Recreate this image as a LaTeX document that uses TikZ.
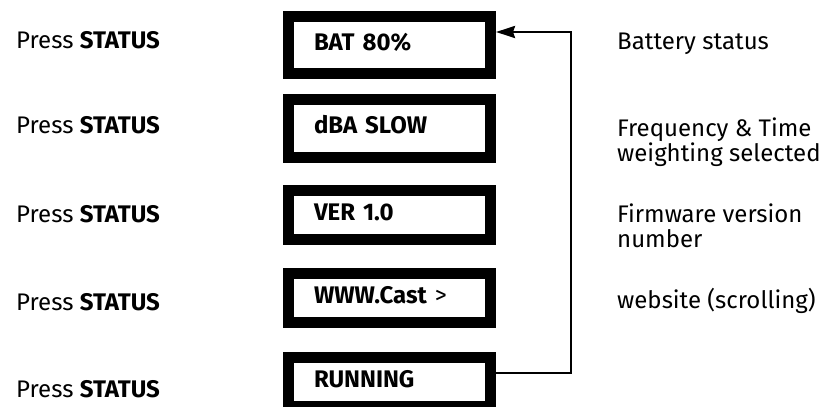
\documentclass[tikz,border=0pt]{standalone}
\usepackage{fontspec}
\setmainfont{Fira Sans}
\usetikzlibrary{arrows.meta}

\begin{document}
\begin{tikzpicture}[x=1pt, y=-1pt,
    every node/.style={font=\fontsize{24}{25}\selectfont},
    lcd/.style={draw, rectangle, line width=11pt, minimum width=202pt, minimum height=49pt,
        text width=151pt, align=left, inner xsep=25.5pt, text height=16pt, text depth=6pt,
        font=\fontsize{24}{25}\selectfont\bfseries},
    press/.style={anchor=base west, inner sep=0pt},
    note/.style={anchor=base west, inner sep=0pt, align=left},
    back/.style={line width=2.5pt, -{Stealth[length=19pt, width=12pt, inset=2pt]}}]
        \useasboundingbox (0,0) rectangle (825,407);

        % display boxes
        \node[lcd, minimum height=57pt] (bat) at (389.5,45) {BAT 80\%};
        \node[lcd, minimum height=58pt] (dba) at (389.5,128.5) {dBA SLOW};
        \node[lcd] (ver) at (389.5,215) {VER 1.0};
        \node[lcd] (www) at (389.5,298) {WWW.Cast {\mdseries >}};
        \node[lcd] (run) at (389.5,382) {RUNNING};

        % key presses
        \node[press] (p1) at (16,48) {Press \textbf{STATUS}};
        \node[press] (p2) at (16,133) {Press \textbf{STATUS}};
        \node[press] (p3) at (16,222) {Press \textbf{STATUS}};
        \node[press] (p4) at (16,310) {Press \textbf{STATUS}};
        \node[press] (p5) at (16,397) {Press \textbf{STATUS}};

        % descriptions (base = last line)
        \node[note] (n1) at (617,49) {Battery status};
        \node[note] (n2) at (617,161) {Frequency \& Time\\weighting selected};
        \node[note] (n3) at (617,247) {Firmware version\\number};
        \node[note] (n4) at (617,308) {website (scrolling)};

        \draw[back] ([yshift=9pt]run.east) -- ++(75,0) |- ([yshift=13pt]bat.east);
    \end{tikzpicture}
\end{document}
